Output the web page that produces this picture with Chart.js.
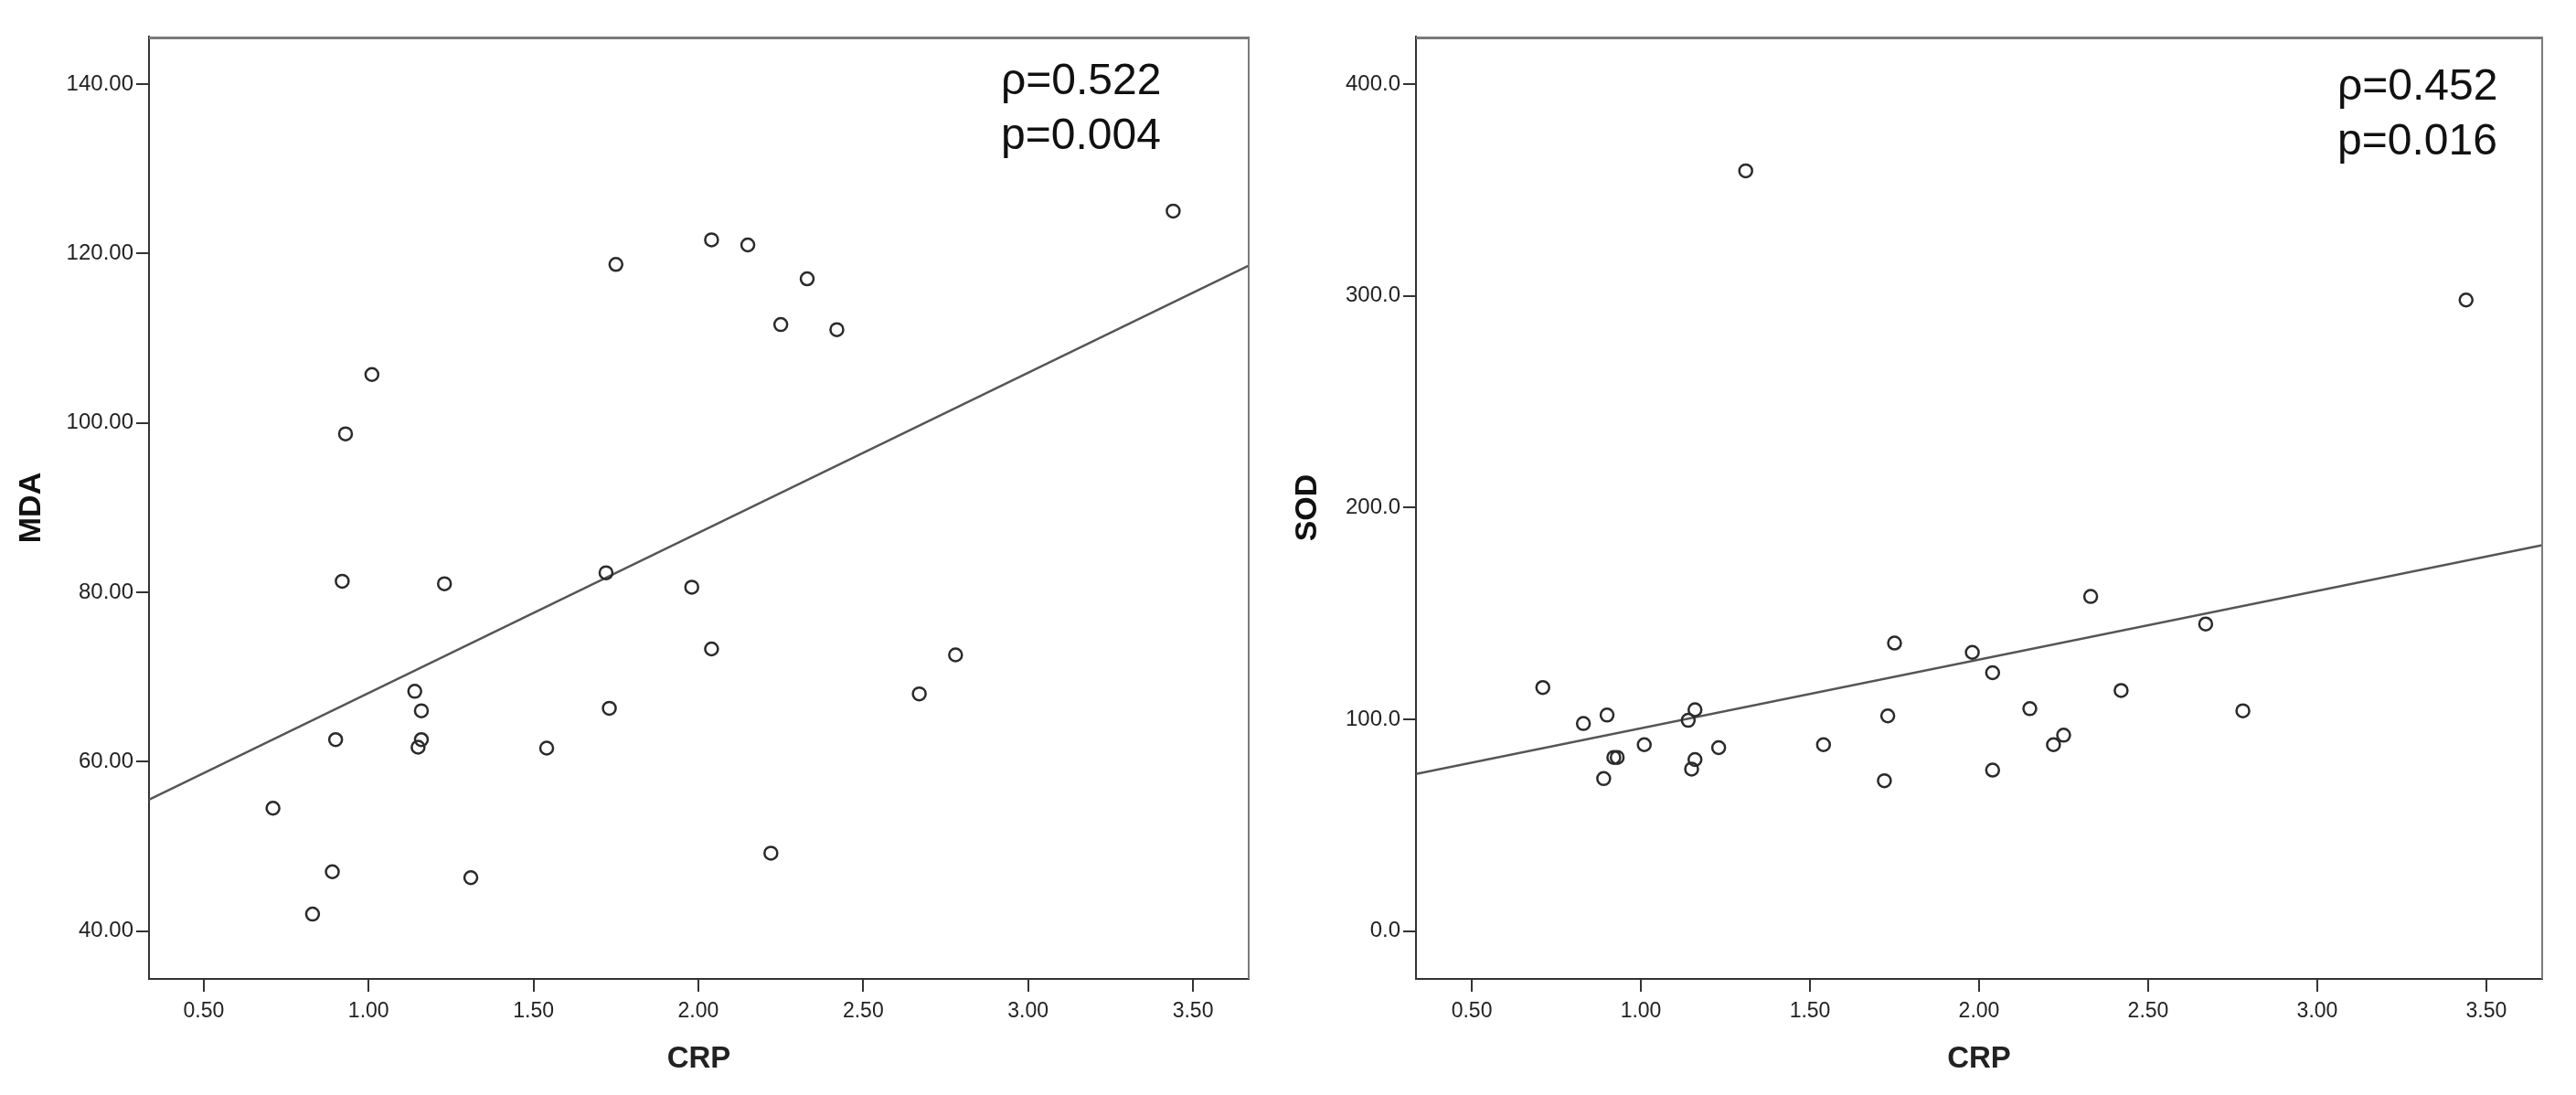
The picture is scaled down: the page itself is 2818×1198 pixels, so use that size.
<!DOCTYPE html>
<html>
<head>
<meta charset="utf-8">
<script src="https://cdn.jsdelivr.net/npm/chart.js@4.4.1/dist/chart.umd.min.js"></script>
<style>
  html, body { margin: 0; padding: 0; background: #fff; }
  #wrap { position: relative; width: 2818px; height: 1198px; }
  canvas { position: absolute; top: 0; }
  #mda-chart { left: 0; }
  #sod-chart { left: 1400px; }
</style>
</head>
<body>
<div id="wrap">
  <canvas id="mda-chart" width="1400" height="1198"></canvas>
  <canvas id="sod-chart" width="1418" height="1198"></canvas>
</div>
<script>
'use strict';

// Same 28 subjects in both panels
const crp = [3.44, 2.04, 2.15, 1.75, 2.33, 2.25, 2.42, 1.01, 0.93, 0.92,
             1.23, 1.72, 1.98, 2.04, 2.78, 1.14, 2.67, 1.16, 1.73, 0.90,
             1.16, 1.15, 1.54, 0.71, 2.22, 0.89, 1.31, 0.83];
const mda = [125.0, 121.6, 121.0, 118.7, 117.0, 111.6, 111.0, 105.7, 98.7, 81.3,
             81.0, 82.3, 80.6, 73.3, 72.6, 68.3, 68.0, 66.0, 66.3, 62.6,
             62.6, 61.7, 61.6, 54.5, 49.2, 47.0, 46.3, 42.0];
const sod = [298.0, 122.0, 105.0, 136.0, 158.0, 92.5, 113.6, 88.0, 82.0, 82.0,
             86.6, 71.0, 131.6, 76.0, 104.0, 99.5, 145.0, 104.5, 101.6, 102.0,
             81.0, 76.5, 88.0, 115.0, 88.0, 72.0, 359.0, 98.0];

const crpTicks = [0.5, 1.0, 1.5, 2.0, 2.5, 3.0, 3.5];
const mdaTicks = [40, 60, 80, 100, 120, 140];
const sodTicks = [0, 100, 200, 300, 400];

// fit lines, end points at the plot edges
const mdaFitX = [0.334, 3.669];
const mdaFitY = [55.5, 118.55];
const sodFitX = [0.335, 3.665];
const sodFitY = [74.2, 182.2];

const mdaStats = ['ρ=0.522', 'p=0.004'];
const sodStats = ['ρ=0.452', 'p=0.016'];

const FONT = "'Liberation Sans', Arial, sans-serif";
const AXIS = '#333333';

const framePlugin = {
  id: 'frame',
  afterDraw(chart, args, opts) {
    const { ctx, chartArea: a } = chart;
    ctx.save();
    // grey box on top and right
    ctx.strokeStyle = '#7a7a7a';
    ctx.lineWidth = 3;
    ctx.beginPath();
    ctx.moveTo(a.left, a.top + 1.5);
    ctx.lineTo(a.right, a.top + 1.5);
    ctx.stroke();
    ctx.lineWidth = 2;
    ctx.beginPath();
    ctx.moveTo(a.right, a.top);
    ctx.lineTo(a.right, a.bottom);
    ctx.stroke();
    // correlation text
    ctx.fillStyle = '#111';
    ctx.font = `48px ${FONT}`;
    ctx.textAlign = 'left';
    ctx.textBaseline = 'alphabetic';
    opts.lines.forEach((t, i) => {
      ctx.fillText(t, opts.x, opts.y + i * 60);
    });
    ctx.restore();
  }
};

function makePanel(id, cfg) {
  const tickFont = { family: FONT, size: 24 };
  const titleFont = { family: FONT, size: 34, weight: 'bold' };

  return new Chart(document.getElementById(id), {
    type: 'scatter',
    data: {
      datasets: [
        {
          data: crp.map((x, i) => ({ x, y: cfg.values[i] })),
          pointStyle: 'circle',
          pointRadius: 7,
          borderWidth: 2.5,
          borderColor: '#2a2a2a',
          backgroundColor: 'rgba(0,0,0,0)',
        },
        {
          type: 'line',
          data: cfg.fitX.map((x, i) => ({ x, y: cfg.fitY[i] })),
          borderColor: '#555',
          borderWidth: 2.5,
          pointRadius: 0,
          fill: false,
        },
      ],
    },
    options: {
      responsive: false,
      animation: false,
      devicePixelRatio: 1,
      layout: { padding: { left: 0, right: cfg.padRight, top: 40, bottom: 0 } },
      plugins: {
        legend: { display: false },
        tooltip: { enabled: false },
        frame: { lines: cfg.stats, x: cfg.textX, y: cfg.textY },
      },
      scales: {
        x: {
          type: 'linear',
          min: cfg.xMin,
          max: cfg.xMax,
          afterFit: s => { s.height = 127; },
          afterBuildTicks: s => { s.ticks = crpTicks.map(v => ({ value: v })); },
          grid: { drawOnChartArea: false, drawTicks: true, tickLength: 14, color: AXIS, lineWidth: 2 },
          border: { display: true, color: AXIS, width: 2 },
          ticks: {
            font: { family: FONT, size: 23 },
            color: '#222',
            padding: 8,
            maxRotation: 0,
            autoSkip: false,
            callback: v => v.toFixed(2),
          },
          title: {
            display: true,
            text: 'CRP',
            font: { family: FONT, size: 33, weight: 'bold' },
            color: '#222',
            padding: { top: 0, bottom: 19 },
          },
        },
        y: {
          type: 'linear',
          min: cfg.yMin,
          max: cfg.yMax,
          afterFit: s => { s.width = cfg.yWidth; },
          afterBuildTicks: s => { s.ticks = cfg.yTicks.map(v => ({ value: v })); },
          grid: { drawOnChartArea: false, drawTicks: true, tickLength: 14, color: AXIS, lineWidth: 2 },
          border: { display: true, color: AXIS, width: 2 },
          ticks: {
            font: tickFont,
            color: '#222',
            padding: 3,
            autoSkip: false,
            callback: v => v.toFixed(cfg.decimals),
          },
          title: {
            display: true,
            text: cfg.label,
            font: titleFont,
            color: '#111',
            padding: { top: cfg.titlePad, bottom: 0 },
          },
        },
      },
    },
    plugins: [framePlugin],
  });
}

makePanel('mda-chart', {
  values: mda, fitX: mdaFitX, fitY: mdaFitY, stats: mdaStats,
  xMin: 0.334, xMax: 3.669, yMin: 34.35, yMax: 145.6,
  yTicks: mdaTicks, decimals: 2, label: 'MDA',
  yWidth: 163, padRight: 34, titlePad: 14,
  textX: 1095, textY: 103,
});

makePanel('sod-chart', {
  values: sod, fitX: sodFitX, fitY: sodFitY, stats: sodStats,
  xMin: 0.335, xMax: 3.665, yMin: -22.6, yMax: 422.4,
  yTicks: sodTicks, decimals: 1, label: 'SOD',
  yWidth: 149, padRight: 37, titlePad: 10,
  textX: 1157, textY: 109,
});
</script>
</body>
</html>
